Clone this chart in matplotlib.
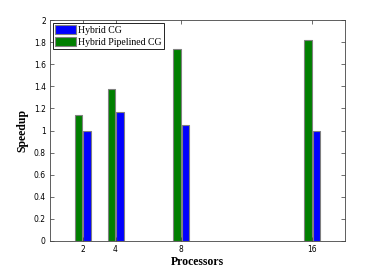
import numpy as np
import matplotlib
matplotlib.use("Agg")
import matplotlib.pyplot as plt

# ── Data ────────────────────────────────────────────────────────────────────
processors = [2, 4, 8, 16]
hybrid_cg = [1.0, 1.17, 1.05, 1.0]
hybrid_pipelined_cg = [1.14, 1.38, 1.74, 1.82]
series_labels = ["Hybrid CG", "Hybrid Pipelined CG"]

fig = plt.figure(figsize=(3.82, 2.71), dpi=100)
ax = fig.add_axes([50 / 382, 1 - 241 / 271, 295 / 382, 221 / 271])

x = np.array(processors, dtype=float)
w = 0.46
edge = "#808080"
b_cg = ax.bar(x + 0.26, hybrid_cg, width=w, color="#0000ff",
              edgecolor=edge, linewidth=0.8, label=series_labels[0])
b_pcg = ax.bar(x - 0.26, hybrid_pipelined_cg, width=w, color="#007f00",
               edgecolor=edge, linewidth=0.8, label=series_labels[1])

ax.set_xlim(0, 18)
ax.set_ylim(0, 2)
ax.set_xticks(processors)
ax.set_yticks(np.arange(0, 2.01, 0.2))
ax.set_yticklabels(["0", "0.2", "0.4", "0.6", "0.8", "1", "1.2", "1.4",
                    "1.6", "1.8", "2"])
ax.tick_params(direction="in", length=3, width=0.5, labelsize=5.5,
               top=True, right=True, pad=3, colors="#333333",
               labelcolor="black")
for s in ax.spines.values():
    s.set_linewidth(0.6)
    s.set_color("#444444")

ax.set_xlabel("Processors", family="Liberation Serif", fontweight="bold",
              fontsize=8.5, labelpad=1)
ax.set_ylabel("Speedup", family="Liberation Serif", fontweight="bold",
              fontsize=8.5, labelpad=4)

leg = ax.legend(handles=[b_cg, b_pcg], loc="upper left",
                prop={"family": "Liberation Serif", "size": 7},
                fancybox=False, framealpha=1, edgecolor="black",
                borderaxespad=0.3, handlelength=2.1, handleheight=1.0,
                handletextpad=0.2, borderpad=0.25, labelspacing=0.2)
leg.get_frame().set_linewidth(0.6)

plt.savefig("out.png", dpi=100)
